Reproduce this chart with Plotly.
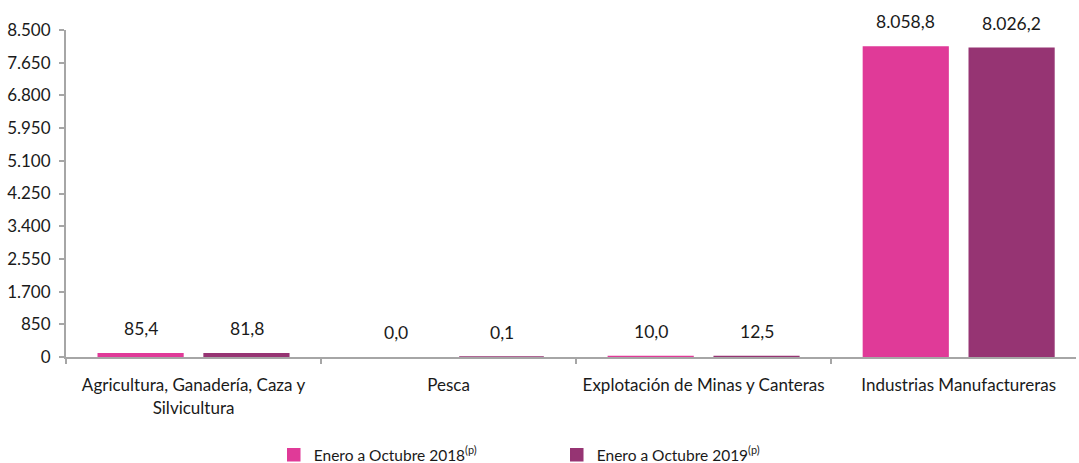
import plotly.graph_objects as go

categories = ["Agricultura, Ganadería, Caza y<br>Silvicultura", "Pesca",
              "Explotación de Minas y Canteras", "Industrias Manufactureras"]
series_names = ["Enero a Octubre 2018<sup>(p)</sup>", "Enero a Octubre 2019<sup>(p)</sup>"]
values_2018 = [85.4, 0.0, 10.0, 8058.8]
values_2019 = [81.8, 0.1, 12.5, 8026.2]
colors = ["#E03A98", "#963473"]
ytick_vals = [0, 850, 1700, 2550, 3400, 4250, 5100, 5950, 6800, 7650, 8500]


def fmt(v):
    s = f"{v:,.1f}"
    return s.replace(",", "X").replace(".", ",").replace("X", ".")


fig = go.Figure()
for name, vals, col in zip(series_names, [values_2018, values_2019], colors):
    fig.add_trace(go.Bar(
        x=categories, y=vals, name=name,
        marker=dict(color=col, line=dict(color=col, width=[1.5 if v > 0 else 0 for v in vals])),
    ))

font_family = "Lato, Open Sans, sans-serif"
annotations = []
for i, vals in enumerate([values_2018, values_2019]):
    shift = -53 if i == 0 else 53
    for c, v in zip(categories, vals):
        annotations.append(dict(
            x=c, y=v, xref="x", yref="y", text=fmt(v), showarrow=False,
            xshift=shift, yshift=25, yanchor="middle",
            font=dict(family=font_family, size=17.5, color="#1a1a1a"),
        ))

fig.update_layout(
    width=1079, height=463,
    margin=dict(l=66, r=3, t=30, b=106, autoexpand=False),
    paper_bgcolor="white", plot_bgcolor="white",
    separators=",.",
    barmode="group", bargap=0.17, bargroupgap=0.2,
    font=dict(family=font_family, size=17, color="#1a1a1a"),
    showlegend=True,
    legend=dict(orientation="h", x=0.516, xanchor="center", xref="container",
                y=0.017, yanchor="middle", yref="container",
                font=dict(size=15.5), entrywidth=238),
    annotations=annotations,
)
fig.update_xaxes(
    range=[-0.5, 3.46], showline=True, linecolor="#a6a6a6", linewidth=2,
    ticks="outside", tickson="boundaries", ticklen=5, tickcolor="#a6a6a6", tickwidth=2,
    showgrid=False, tickfont=dict(size=17), automargin=False, ticklabelstandoff=12,
)
fig.update_yaxes(
    range=[0, 8500], tickvals=ytick_vals, tickformat=",d", showline=True,
    linecolor="#a6a6a6", linewidth=2, ticks="outside", ticklen=5,
    tickcolor="#a6a6a6", tickwidth=2, showgrid=False, zeroline=False,
    tickfont=dict(size=17), automargin=False, ticklabelstandoff=5,
)

fig.write_html("out.html", config={"displayModeBar": False},
               post_script="document.body.style.margin='0px';")
